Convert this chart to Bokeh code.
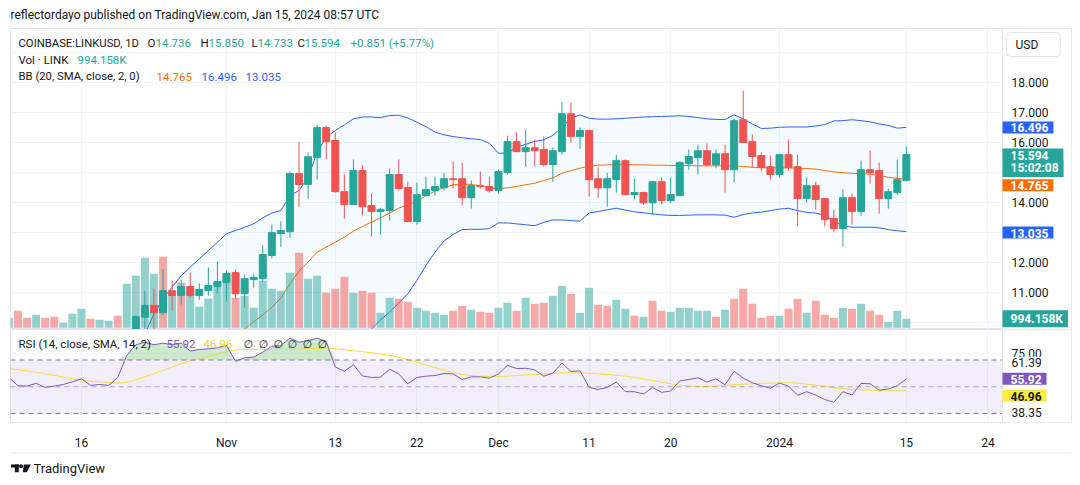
import numpy as np
import pandas as pd
from bokeh.plotting import figure
from bokeh.layouts import column
from bokeh.models import (Range1d, FixedTicker, Label, Span, BoxAnnotation, ColumnDataSource)
from bokeh.embed import file_html
from bokeh.resources import INLINE

N = np.nan
dates = pd.date_range("2023-10-08", "2024-01-15", freq="D")

# ---- candles (Oct 8..Oct 21 are below the visible price area) ----
opens = [N] * 14 + [
    9.55, 10.19, 10.58, 10.34, 11.07, 10.91, 11.21, 10.91, 11.07, 11.21,
    11.34, 11.67, 10.97, 11.44, 11.47, 12.24, 12.97, 13.03, 14.96, 14.60,
    15.49, 16.49, 16.06, 14.36, 13.93, 15.06, 13.90, 13.70, 13.73, 14.93,
    14.50, 13.37, 14.23, 14.40, 14.49, 14.79, 14.79, 14.16, 14.56, 14.53,
    14.40, 14.99, 16.02, 15.69, 15.82, 15.76, 15.26, 15.69, 16.95, 16.19,
    16.39, 14.79, 14.49, 14.76, 15.39, 14.26, 14.33, 13.99, 14.69, 14.06,
    14.23, 15.29, 15.49, 15.72, 15.26, 15.62, 15.09, 16.75, 16.02, 15.56, 15.19,
    14.93, 15.59, 15.19, 14.13, 14.56, 14.13, 13.47, 13.13, 14.16, 13.70,
    15.09, 15.06, 14.13, 14.33, 14.736]
highs = [N] * 14 + [
    10.25, 11.07, 11.14, 11.80, 11.41, 11.43, 11.67, 11.31, 11.84, 12.04,
    11.74, 11.78, 11.60, 11.64, 12.57, 13.27, 13.37, 15.03, 16.02, 15.66,
    16.59, 16.55, 16.32, 14.93, 15.43, 15.23, 14.30, 13.83, 15.13, 15.43,
    14.69, 14.66, 14.86, 14.86, 14.99, 15.36, 15.33, 14.73, 15.03, 14.86,
    15.09, 16.22, 16.32, 16.42, 16.09, 16.19, 15.82, 17.35, 17.32, 16.49,
    16.42, 15.16, 14.99, 15.59, 15.43, 14.79, 14.36, 14.69, 14.83, 14.83,
    15.36, 15.76, 15.92, 15.96, 15.76, 15.92, 16.79, 17.72, 16.26, 15.66, 15.56,
    15.59, 16.09, 15.59, 14.83, 14.69, 14.13, 13.76, 14.43, 14.30, 15.39,
    15.72, 15.33, 14.46, 15.43, 15.850]
lows = [N] * 14 + [
    9.45, 9.70, 9.70, 10.25, 10.41, 10.61, 10.84, 10.77, 10.91, 10.97,
    10.71, 10.81, 10.51, 11.17, 11.37, 12.14, 12.53, 12.83, 13.86, 14.13,
    14.76, 15.43, 14.33, 13.47, 13.93, 13.57, 12.87, 12.93, 13.40, 14.40,
    13.33, 13.27, 14.20, 14.23, 14.40, 14.46, 13.90, 13.80, 14.46, 14.33,
    14.30, 14.93, 15.69, 15.19, 15.19, 15.19, 14.69, 15.59, 15.99, 15.79,
    14.20, 14.16, 13.86, 14.33, 14.26, 14.10, 13.93, 13.60, 13.93, 13.99,
    14.20, 15.09, 14.93, 15.19, 15.13, 14.33, 14.66, 15.99, 15.16, 15.03, 14.76,
    14.83, 15.06, 13.20, 14.00, 13.76, 13.20, 13.00, 12.53, 13.27, 13.56,
    14.63, 13.63, 13.80, 14.26, 14.733]
closes = [N] * 14 + [
    10.21, 10.58, 10.34, 11.07, 10.91, 11.21, 10.91, 11.11, 11.24, 11.37,
    11.64, 10.97, 11.47, 11.51, 12.27, 13.00, 13.07, 14.96, 14.60, 15.52,
    16.49, 16.02, 14.36, 13.93, 15.06, 13.86, 13.70, 13.77, 14.93, 14.46,
    13.37, 14.26, 14.43, 14.53, 14.79, 14.76, 14.16, 14.56, 14.53, 14.40,
    15.03, 16.02, 15.69, 15.82, 15.72, 15.26, 15.72, 16.95, 16.19, 16.39,
    14.76, 14.49, 14.79, 15.39, 14.26, 14.33, 13.99, 14.69, 14.06, 14.26,
    15.33, 15.53, 15.72, 15.26, 15.62, 15.09, 16.72, 15.99, 15.53, 15.16, 14.93,
    15.59, 15.16, 14.13, 14.56, 14.10, 13.43, 13.13, 14.16, 13.70, 15.09,
    14.99, 14.13, 14.36, 14.76, 15.594]

# ---- volume (thousands of LINK) and its bar direction ----
volume = [
    1067, 1877, 1104, 1435, 1104, 1214, 552, 1546, 2098, 994,
    883, 773, 1325, 4858, 5741, 7728, 5962, 7838, 3533, 4968,
    3901, 2318, 3202, 5115, 5446, 3312, 3533, 2208, 5189, 4306,
    4085, 6072, 8280, 5410, 5741, 3864, 4306, 5630, 3864, 4085,
    3864, 1656, 3312, 3202, 2870, 2208, 1877, 1656, 1435, 1877,
    2429, 1987, 1766, 1656, 2208, 2760, 1877, 3312, 2650, 2760,
    3533, 4637, 3754, 1656, 4416, 2539, 2429, 3091, 2098, 1325,
    1214, 2981, 1877, 1766, 2208, 2208, 1877, 1877, 1214, 1987,
    3202, 4306, 2650, 1104, 1325, 1325, 2098, 3202, 1656, 2981,
    1435, 1104, 2208, 2098, 2650, 1877, 1435, 662, 1877, 994.158]
vol_dir = list(
    "uddudduuuduudu"      # Oct 8 - Oct 21
    "uuududuuuuu"         # Oct 22 - Nov 1
    "duuuuuudu"           # Nov 2 - Nov 10
    "udddudduuddu"        # Nov 11 - Nov 22
    "uuudduddu"           # Nov 23 - Dec 1
    "ududduuduudduudud"   # Dec 2 - Dec 18
    "duuuuudud"           # Dec 19 - Dec 27
    "ddddud"              # Dec 28 - Jan 2
    "dudddudud"           # Jan 3 - Jan 11
    "duuu")               # Jan 12 - Jan 15

# ---- Bollinger Bands (20, 2) ----
bb_upper = [N] * 14 + [
    9.30, 9.64, 10.30, 10.80, 11.19, 11.57, 11.85, 12.13, 12.40, 12.68,
    12.96, 13.07, 13.18, 13.29, 13.49, 13.65, 13.73, 14.23, 14.40, 14.84,
    15.67, 16.17, 16.39, 16.58, 16.78, 16.84, 16.84, 16.82, 16.89, 16.90,
    16.81, 16.67, 16.52, 16.34, 16.25, 16.19, 16.15, 16.12, 16.09, 15.97,
    15.64, 15.64, 15.84, 15.93, 16.03, 16.08, 16.23, 16.50, 16.81, 16.91,
    16.80, 16.77, 16.77, 16.78, 16.80, 16.82, 16.84, 16.85, 16.86, 16.87,
    16.88, 16.86, 16.82, 16.78, 16.76, 16.76, 16.91, 16.78, 16.61, 16.46, 16.47,
    16.50, 16.51, 16.51, 16.51, 16.54, 16.59, 16.71, 16.72, 16.75, 16.72,
    16.68, 16.61, 16.56, 16.47, 16.496]
bb_basis = [N] * 25 + [
    9.53, 9.80, 10.04, 10.26, 10.52, 10.83, 11.30, 11.72, 12.02,
    12.35, 12.52, 12.68, 12.85, 13.05, 13.20, 13.35, 13.49, 13.65, 13.81,
    13.93, 14.04, 14.23, 14.38, 14.49, 14.59, 14.61, 14.60, 14.55, 14.49,
    14.45, 14.49, 14.53, 14.59, 14.64, 14.73, 14.82, 14.97, 15.06, 15.14,
    15.21, 15.24, 15.25, 15.26, 15.26, 15.25, 15.25, 15.24, 15.24, 15.23,
    15.23, 15.23, 15.22, 15.22, 15.22, 15.22, 15.21, 15.20, 15.17, 15.16, 15.15,
    15.15, 15.15, 15.14, 15.13, 15.11, 15.06, 15.02, 14.99, 14.97, 14.96,
    14.94, 14.90, 14.84, 14.80, 14.765]
bb_lower = [N] * 39 + [
    9.47, 9.80, 10.10, 10.36, 10.66,
    10.97, 11.41, 11.91, 12.35, 12.72, 12.94, 13.10, 13.11, 13.11, 13.13,
    13.32, 13.32, 13.29, 13.26, 13.23, 13.34, 13.42, 13.42, 13.40, 13.38,
    13.65, 13.70, 13.76, 13.81, 13.75, 13.69, 13.66, 13.62, 13.59, 13.57,
    13.57, 13.58, 13.59, 13.59, 13.59, 13.58, 13.51, 13.60, 13.65, 13.68, 13.73,
    13.78, 13.81, 13.73, 13.67, 13.65, 13.57, 13.38, 13.22, 13.18, 13.18,
    13.18, 13.16, 13.10, 13.06, 13.035]

# ---- RSI (14) and its SMA (14) ----
rsi = [
    56.9, 50.7, 50.5, 52.5, 49.5, 50.5, 51.7, 53.7, 55.9, 51.0,
    51.7, 51.0, 56.9, 73.5, 81.4, 83.3, 81.4, 82.6, 81.4, 82.6,
    76.7, 77.9, 78.4, 79.1, 80.9, 69.0, 71.7, 72.2, 75.9, 80.1,
    80.9, 86.3, 83.3, 84.6, 86.3, 83.8, 64.8, 61.6, 66.5, 58.1,
    56.9, 57.2, 63.1, 59.6, 52.2, 56.9, 57.9, 58.4, 59.9, 59.6,
    55.4, 57.4, 57.4, 56.4, 59.6, 66.0, 63.6, 63.8, 62.6, 57.9,
    60.1, 67.8, 61.4, 61.9, 49.5, 48.0, 49.5, 53.5, 46.3, 46.3,
    44.6, 49.5, 45.8, 46.8, 54.4, 55.4, 56.7, 53.5, 55.9, 51.5,
    61.6, 56.4, 53.0, 50.7, 49.0, 52.7, 50.5, 43.6, 46.3, 43.8,
    40.4, 38.4, 46.3, 43.8, 52.5, 52.2, 47.5, 48.3, 50.7, 55.92]
rsi_ma = [
    63.6, 62.8, 61.9, 60.9, 59.6, 58.4, 57.2, 55.9, 54.9, 54.2,
    53.7, 53.2, 52.7, 53.2, 55.2, 57.4, 59.9, 62.3, 64.8, 67.3,
    69.3, 71.0, 72.7, 74.4, 76.2, 77.4, 77.9, 77.9, 77.9, 77.9,
    77.9, 77.9, 78.1, 78.4, 78.6, 78.9, 78.4, 77.7, 76.9, 76.2,
    75.4, 74.4, 73.5, 72.0, 70.2, 68.3, 66.3, 64.3, 62.3, 60.6,
    59.1, 58.4, 57.9, 57.7, 57.7, 57.9, 58.4, 58.9, 59.1, 59.6,
    60.1, 60.4, 60.4, 60.4, 60.1, 59.6, 59.1, 58.6, 57.9, 56.9,
    55.9, 54.7, 53.5, 52.2, 51.2, 50.7, 50.2, 50.2, 50.5, 51.0,
    51.5, 52.0, 52.2, 52.5, 52.7, 53.0, 53.0, 52.7, 52.0, 51.2,
    50.2, 49.3, 48.5, 48.0, 47.8, 47.5, 47.0, 47.0, 47.0, 46.96]

tick_dates = ["2023-10-16", "2023-11-01", "2023-11-13", "2023-11-22", "2023-12-01",
              "2023-12-11", "2023-12-20", "2024-01-01", "2024-01-15", "2024-01-24"]
tick_labels = ["16", "Nov", "13", "22", "Dec", "11", "20", "2024", "15", "24"]
price_ticks = [10, 11, 12, 13, 14, 15, 16, 17, 18, 19]
rsi_ticks = [75]

# ---- styling / layout constants ----
UP, DN = "#26a69a", "#ef5350"
TXT = "#131722"
GRID = "#f0f3fa"
BORDER = "#e0e3eb"
FONT = "Roboto"
DAY = 86400000.0
PXD = 9.065            # pixels per day
FL, FR, SCALE = 10, 1071, 1002   # frame left, frame right, price-scale separator (px)


def ms(ts):
    return pd.Timestamp(ts).value / 1e6


X0 = ms("2023-11-01") - (226 - FL) / PXD * DAY
X1 = X0 + (SCALE - FL) / PXD * DAY
XE = X0 + (FR - FL) / PXD * DAY
P0, P1 = 9.781, 19.781
R0, R1 = 23.27, 92.8
TICK_MS = [ms(d) for d in tick_dates]


def lab(fig, text, x, y, xo=0, yo=0, color=TXT, size="12px", bold=False, bg=None,
        pad=None, align="left", yr="default", border=None, radius=None, font=FONT):
    kw = dict(x=x, y=y, x_offset=xo, y_offset=yo, text=text, text_color=color,
              text_font=font, text_font_size=size,
              text_font_style="bold" if bold else "normal",
              text_align=align, text_baseline="middle", y_range_name=yr)
    if bg:
        kw["background_fill_color"] = bg
    if pad:
        kw["padding"] = pad
    if border:
        kw["border_line_color"] = border
    if radius:
        kw["border_radius"] = radius
    fig.add_layout(Label(**kw))


def blank(h):
    # page-pixel coordinates: x from frame left to frame right, y downwards
    f = figure(width=1080, height=h, x_range=Range1d(FL, FR), y_range=Range1d(h, 0),
               x_axis_location=None, y_axis_location=None,
               min_border_left=FL, min_border_right=1080 - FR, min_border_top=0,
               min_border_bottom=0, output_backend="svg", toolbar_location=None)
    f.outline_line_color = None
    f.grid.visible = False
    return f


opens_a, highs_a, lows_a, closes_a = map(np.array, (opens, highs, lows, closes))
up = closes_a >= opens_a
src = ColumnDataSource(dict(
    x=dates, o=opens_a, h=highs_a, l=lows_a, c=closes_a,
    top=np.fmax(opens_a, closes_a), bot=np.fmin(opens_a, closes_a),
    col=[UP if u else DN for u in up],
    vol=volume, vcol=[UP if d == "u" else DN for d in vol_dir]))

# ================= header =================
hdr = blank(28)
lab(hdr, "reflectordayo published on TradingView.com, Jan 15, 2024 08:57 UTC", 10, 14.5,
    size="12px")

# ================= price pane =================
p = figure(width=1080, height=301, x_range=Range1d(X0, XE), y_range=Range1d(P0, P1),
           x_axis_type="datetime", x_axis_location=None, y_axis_location=None,
           output_backend="svg", toolbar_location=None,
           min_border_left=FL, min_border_right=1080 - FR, min_border_top=0, min_border_bottom=0)
p.extra_y_ranges = {"vol": Range1d(-190, 33056)}
p.outline_line_color = BORDER
p.xgrid.ticker = FixedTicker(ticks=TICK_MS)
p.ygrid.ticker = FixedTicker(ticks=price_ticks)
p.xgrid.grid_line_color = GRID
p.ygrid.grid_line_color = GRID

bu = np.array(bb_upper)
bl = np.array(bb_lower)
have_u = ~np.isnan(bu)
fill_lo = np.where(np.isnan(bl), P0 - 1, bl)
p.varea(x=dates[have_u], y1=fill_lo[have_u], y2=bu[have_u], fill_color="#2196f3", fill_alpha=0.05)
p.line(x=dates, y=bb_upper, line_color="#2962ff", line_width=1)
p.line(x=dates, y=bb_lower, line_color="#2962ff", line_width=1)
p.line(x=dates, y=bb_basis, line_color="#ff6d00", line_width=1)

p.vbar(x="x", top="vol", bottom=0, width=0.88 * DAY, fill_color="vcol", line_color=None,
       fill_alpha=0.5, y_range_name="vol", source=src)
p.segment(x0="x", x1="x", y0="l", y1="h", line_color="col", line_width=1, source=src)
p.vbar(x="x", top="top", bottom="bot", width=0.77 * DAY, fill_color="col", line_color="col",
       line_width=1, source=src)

# price scale area (inside the frame, right of the separator)
p.add_layout(BoxAnnotation(left=X1, fill_color="white", fill_alpha=1.0, line_color=None))
p.add_layout(Span(location=X1, dimension="height", line_color=BORDER, line_width=1))
for t in price_ticks:
    lab(p, f"{t:.3f}", X1, t, 9, 0)

# legends (x offset from frame left, y offset from frame top)
L1, L2, L3 = -14.5, -31.0, -48.0
LS = "11.5px"
lab(p, "COINBASE:LINKUSD, 1D", X0, P1, 8, L1, size="11.3px")
for t, xx, c in [("O", 147, TXT), ("14.736", 155, UP), ("H", 200, TXT), ("15.850", 208, UP),
                 ("L", 251, TXT), ("14.733", 257, UP), ("C", 297, TXT), ("15.594", 304, UP),
                 ("+0.851 (+5.77%)", 350, UP)]:
    lab(p, t, X0, P1, xx - FL, L1, color=c, size=LS)
lab(p, "Vol · LINK", X0, P1, 8, L2, size=LS)
lab(p, "994.158K", X0, P1, 77 - FL, L2, color=UP, size=LS)
lab(p, "BB (20, SMA, close, 2, 0)", X0, P1, 8, L3, size="11.3px")
lab(p, "14.765", X0, P1, 156 - FL, L3, color="#ff6d00", size=LS)
lab(p, "16.496", X0, P1, 201 - FL, L3, color="#2962ff", size=LS)
lab(p, "13.035", X0, P1, 245 - FL, L3, color="#2962ff", size=LS)

# right scale badges (label anchor = left edge of its box)
lab(p, "USD", X1, P1, 4, -16, size="12px", bg="white", border=BORDER, radius=4,
    pad=dict(left=9, right=22, top=5, bottom=5))
lab(p, "16.496", X1, 16.496, 0, 0, color="white", bold=True, bg="#2962ff",
    pad=dict(left=8, right=5, top=2, bottom=1))
lab(p, "15.594", X1, 15.594, 0, 0, color="white", bold=True, bg=UP,
    pad=dict(left=8, right=15, top=2, bottom=1))
lab(p, "15:02:08", X1, 15.594, 0, -14, color="white", bold=True, bg=UP,
    pad=dict(left=8, right=5, top=1, bottom=2))
lab(p, "14.765", X1, 14.765, 0, -5.7, color="white", bold=True, bg="#ff6d00",
    pad=dict(left=8, right=5, top=2, bottom=1))
lab(p, "13.035", X1, 13.035, 0, -1, color="white", bold=True, bg="#2962ff",
    pad=dict(left=8, right=5, top=2, bottom=1))
lab(p, "994.158K", X1, 994.158, 0, 0, color="white", bold=True, bg=UP, yr="vol",
    pad=dict(left=8, right=5, top=2, bottom=1))

# ================= RSI pane =================
r = figure(width=1080, height=123, x_range=p.x_range, y_range=Range1d(R0, R1),
           x_axis_type="datetime", y_axis_location=None,
           output_backend="svg", toolbar_location=None,
           min_border_left=FL, min_border_right=1080 - FR, min_border_top=0, min_border_bottom=30)
r.outline_line_color = BORDER
r.xgrid.ticker = FixedTicker(ticks=TICK_MS)
r.xgrid.grid_line_color = GRID
r.ygrid.ticker = FixedTicker(ticks=rsi_ticks)
r.ygrid.grid_line_color = GRID
xa = r.xaxis[0]
xa.ticker = FixedTicker(ticks=TICK_MS)
xa.major_label_overrides = {m: t for m, t in zip(TICK_MS, tick_labels)}
xa.axis_line_color = BORDER
xa.major_tick_line_color = None
xa.minor_tick_line_color = None
xa.major_label_standoff = 7
xa.major_label_text_font = FONT
xa.major_label_text_font_size = "12px"
xa.major_label_text_color = TXT

r.add_layout(BoxAnnotation(bottom=30, top=70, fill_color="#7e57c2", fill_alpha=0.1,
                           line_color=None, level="underlay"))
for lvl, a in [(70, 1.0), (50, 0.6), (30, 1.0)]:
    r.add_layout(Span(location=lvl, dimension="width", line_color="#787b86", line_alpha=a,
                      line_width=1, line_dash="5 4"))
rsi_a = np.array(rsi)
r.varea(x=dates, y1=70, y2=np.maximum(rsi_a, 70), fill_color="#4caf50", fill_alpha=0.28)
r.line(x=dates, y=rsi_ma, line_color="#fdd835", line_width=1)
r.line(x=dates, y=rsi, line_color="#7e57c2", line_width=1)

r.add_layout(BoxAnnotation(left=X1, fill_color="white", fill_alpha=1.0, line_color=None))
r.add_layout(Span(location=X1, dimension="height", line_color=BORDER, line_width=1))
for t in rsi_ticks:
    lab(r, f"{t:.2f}", X1, t, 9, 0)

# RSI legend
RL = -14.5
lab(r, "RSI (14, close, SMA, 14, 2)", X0, R1, 8, RL, size=LS)
lab(r, "55.92", X0, R1, 166 - FL, RL, color="#7e57c2", size=LS)
lab(r, "46.96", X0, R1, 203 - FL, RL, color="#f5d623", size=LS)
for xx in [243, 258, 273, 287, 302, 317]:
    lab(r, "∅", X0, R1, xx - FL, RL, font="DejaVu Sans", size="11px")

# RSI scale badges
lab(r, "61.39", X1, 61.39, 8, 9.3, bg="white", pad=dict(left=1, right=5, top=1, bottom=1))
lab(r, "55.92", X1, 55.92, 0, 0, color="white", bold=True, bg="#7e57c2",
    pad=dict(left=8, right=5, top=2, bottom=1))
lab(r, "46.96", X1, 46.96, 0, -4.7, color=TXT, bold=True, bg="#ffeb3b",
    pad=dict(left=8, right=5, top=2, bottom=1))
lab(r, "38.35", X1, 38.35, 8, -10.5, bg="white", pad=dict(left=1, right=5, top=1, bottom=1))

# ================= footer =================
ftr = blank(33)
ftr.line(x=[FL, FR], y=[0.5, 0.5], line_color=BORDER, line_width=1)
ftr.quad(left=[10.3, 14.3], right=[18.3, 18.3], top=[12, 12], bottom=[15, 19.7], fill_color=TXT,
         line_color=None)
ftr.scatter(x=[20.6], y=[13.8], size=4, fill_color=TXT, line_color=None)
ftr.patch(x=[23.3, 30.3, 26.3, 22.3], y=[12, 12, 19.7, 19.7], fill_color=TXT, line_color=None)
lab(ftr, "TradingView", 33, 16.3, size="13px")

layout = column(hdr, p, r, ftr, spacing=0)
open("out.html", "w").write(file_html(layout, INLINE))
